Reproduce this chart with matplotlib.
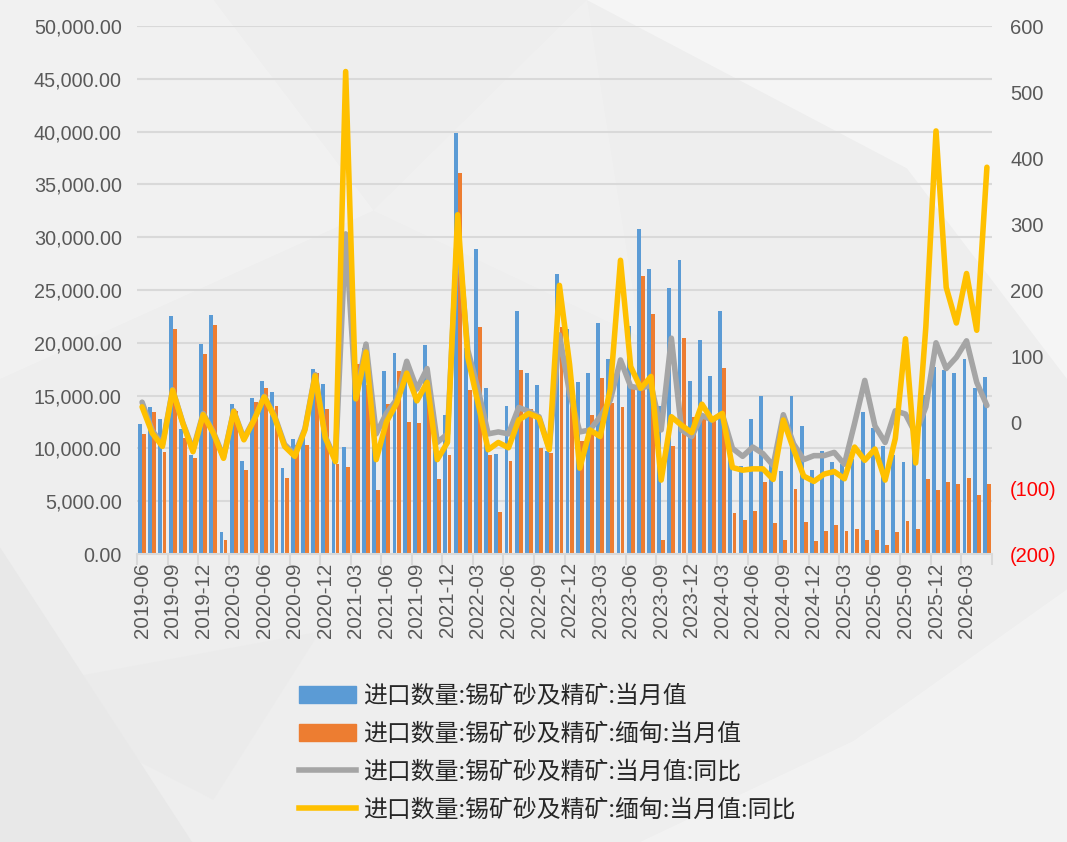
import matplotlib
matplotlib.use('Agg')
import matplotlib.pyplot as plt
import numpy as np
import pandas as pd
from matplotlib.patches import Polygon, Patch
from matplotlib.lines import Line2D

plt.rcParams['font.family'] = ['Liberation Sans', 'Noto Sans CJK SC', 'DejaVu Sans']

months = [p.strftime('%Y-%m') for p in pd.period_range('2019-06', periods=84, freq='M')]

total = [12300, 13900, 12800, 22500, 11800, 9400, 19900, 22600, 2100, 14200,
         8800, 14800, 16400, 15300, 8100, 10900, 11200, 17500, 16100, 9000,
         10100, 17000, 19500, 11000, 17300, 19000, 16500, 15500, 19800, 11500,
         13200, 39900, 19500, 28900, 15700, 9500, 14000, 23000, 17100, 16000,
         9800, 26500, 21300, 16300, 17100, 21900, 18500, 18100, 21600, 30800,
         27000, 14000, 25200, 27800, 16400, 20300, 16900, 23000, 9500, 8300,
         12800, 15000, 8800, 7900, 15000, 12100, 8000, 9800, 8700, 8500,
         9000, 13400, 11900, 10200, 9400, 8700, 12000, 15100, 17700, 17400,
         17100, 18500, 15700, 16800]

myanmar = [11400, 13400, 9700, 21300, 11000, 9100, 18900, 21700, 1300, 13500,
           8000, 14400, 15700, 14000, 7200, 10300, 10300, 17100, 13700, 8500,
           8200, 18000, 16000, 6100, 14200, 17300, 12500, 12400, 16000, 7100,
           9400, 36100, 15500, 21500, 9400, 4000, 8800, 17400, 13700, 10000,
           9600, 21500, 16500, 10700, 13200, 16700, 14300, 13900, 16000, 26300,
           22700, 1300, 10200, 20500, 13000, 13200, 13000, 17600, 3900, 3200,
           4100, 6800, 2900, 1300, 6200, 3000, 1200, 2200, 2700, 2200,
           2400, 1300, 2300, 850, 2100, 3100, 2400, 7100, 6100, 6800,
           6600, 7200, 5600, 6600]

total_yoy = [30, -13, -34, 49, -1, -42, 13, -15, -53, 17,
             -25, 4, 39, 10, -34, -49, -10, 72, -22, -57,
             285, 37, 118, -18, 13, 34, 92, 50, 81, -31,
             -18, 290, 109, 50, -18, -15, -18, 22, 16, 8,
             -40, 132, 44, -15, -12, 8, 33, 94, 54, 51,
             56, -12, 127, -12, -22, 10, 3, 12, -40, -52,
             -38, -48, -66, 11, -33, -57, -51, -51, -46, -64,
             -2, 63, -6, -31, 17, 12, -18, 23, 120, 81,
             98, 123, 60, 25]

myanmar_yoy = [23, -17, -37, 48, -2, -45, 11, -17, -55, 16,
               -27, 3, 38, 8, -37, -52, -12, 70, -24, -60,
               531, 35, 106, -57, 0, 28, 74, 32, 60, -57,
               -31, 314, 98, 29, -42, -31, -39, 3, 13, 6,
               -42, 207, 87, -70, -12, -22, 50, 245, 84, 51,
               69, -88, 8, -5, -16, 27, 3, 13, -69, -73,
               -71, -71, -87, 3, -41, -82, -90, -79, -75, -86,
               -38, -58, -41, -88, -25, 126, -62, 144, 441, 204,
               150, 225, 139, 386]

legend_labels = ['进口数量:锡矿砂及精矿:当月值',
                 '进口数量:锡矿砂及精矿:缅甸:当月值',
                 '进口数量:锡矿砂及精矿:当月值:同比',
                 '进口数量:锡矿砂及精矿:缅甸:当月值:同比']

C_BLUE, C_ORANGE, C_GRAY, C_YELLOW = '#5B9BD5', '#ED7D31', '#A5A5A5', '#FFC000'
TXT = '#595959'

fig = plt.figure(figsize=(10.67, 8.42), dpi=100, facecolor='#EEEEEE')

# subtle background facets
bg = fig.add_axes([0, 0, 1, 1], zorder=-10)
bg.set_xlim(0, 1); bg.set_ylim(0, 1); bg.axis('off')
facets = [
    ([(0.55, 1.0), (1.0, 1.0), (1.0, 0.55), (0.85, 0.8)], '#F6F6F6', 0.9),
    ([(0.0, 0.55), (0.35, 0.75), (0.2, 1.0), (0.0, 1.0)], '#F3F3F3', 0.8),
    ([(0.0, 0.0), (0.0, 0.35), (0.18, 0.0)], '#E4E4E4', 0.6),
    ([(0.0, 0.18), (0.2, 0.05), (0.3, 0.25)], '#E9E9E9', 0.5),
    ([(0.6, 0.0), (1.0, 0.0), (1.0, 0.3), (0.8, 0.12)], '#F4F4F4', 0.8),
    ([(0.35, 0.75), (0.55, 1.0), (0.6, 0.6)], '#F2F2F2', 0.7),
]
for pts, c, a in facets:
    bg.add_patch(Polygon(pts, closed=True, fc=c, ec='none', alpha=a))

L, R, T, B = 137, 992, 26, 554
ax = fig.add_axes([L / 1067, 1 - B / 842, (R - L) / 1067, (B - T) / 842])
ax.set_facecolor('none')
x = np.arange(len(months))
w = 0.38
ax.bar(x - 0.2, total, w, color=C_BLUE, zorder=2)
ax.bar(x + 0.2, myanmar, w, color=C_ORANGE, zorder=2)
ax.set_ylim(0, 50000)
ax.set_yticks(np.arange(0, 50001, 5000))
ax.yaxis.set_major_formatter(lambda v, p: f"{v:,.2f}")
ax.grid(axis='y', color='#D9D9D9', lw=1.5, zorder=0)
ax.set_axisbelow(True)
ax.set_xlim(-0.5, len(months) - 0.5)
for s in ['left', 'right', 'top']:
    ax.spines[s].set_visible(False)
ax.spines['bottom'].set_color('#D9D9D9')
ax.spines['bottom'].set_linewidth(1.5)
ax.set_xticks(x[::3])
ax.set_xticklabels(months[::3], rotation=90)
ax.set_xticks(np.arange(-0.5, len(months), 3), minor=True)
ax.tick_params(axis='x', which='major', length=0, pad=6, labelsize=14.8, labelcolor=TXT)
ax.tick_params(axis='x', which='minor', length=8, color='#D9D9D9', width=1.5)
ax.tick_params(axis='y', length=0, pad=11, labelsize=14.2, labelcolor=TXT)

ax2 = ax.twinx()
ax2.set_facecolor('none')
ax2.plot(x, total_yoy, color=C_GRAY, lw=4.0, solid_joinstyle='round', solid_capstyle='round', zorder=3)
ax2.plot(x, myanmar_yoy, color=C_YELLOW, lw=4.0, solid_joinstyle='round', solid_capstyle='round', zorder=4)
ax2.set_ylim(-200, 600)
rticks = list(range(-200, 601, 100))
ax2.set_yticks(rticks)
ax2.set_yticklabels([f"({abs(v)})" if v < 0 else f"{v}" for v in rticks])
for lbl, v in zip(ax2.get_yticklabels(), rticks):
    lbl.set_color('#FF0000' if v < 0 else TXT)
ax2.tick_params(axis='y', length=0, pad=13, labelsize=14.5)
for s in ['left', 'right', 'top', 'bottom']:
    ax2.spines[s].set_visible(False)

handles = [Patch(color=C_BLUE), Patch(color=C_ORANGE),
           Line2D([], [], color=C_GRAY, lw=4), Line2D([], [], color=C_YELLOW, lw=4)]
fig.legend(handles, legend_labels, loc='upper left', bbox_to_anchor=(299 / 1067, 1 - 685 / 842),
           frameon=False, prop={'family': ['Noto Sans CJK SC', 'DejaVu Sans'], 'size': 17.2},
           labelcolor='#262626', handlelength=2.4, handleheight=0.7, handletextpad=0.3,
           labelspacing=0.62, borderpad=0, borderaxespad=0)

fig.savefig('out.png', dpi=100, facecolor=fig.get_facecolor())
